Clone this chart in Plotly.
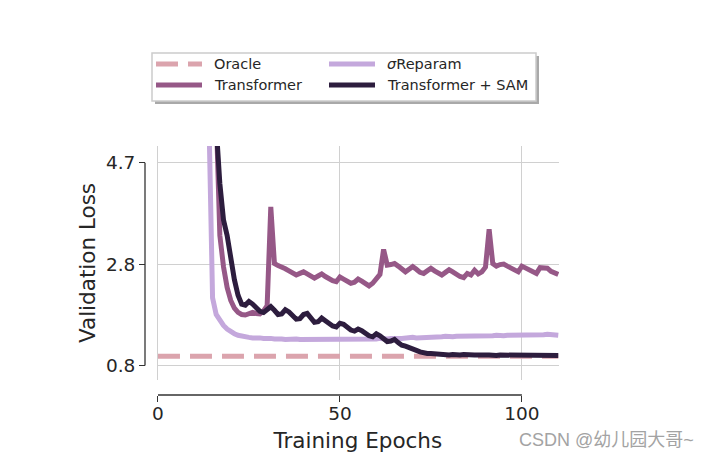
import plotly.graph_objects as go

# ---------------- data ----------------
oracle_epochs = [0, 110]
oracle_loss = [0.975, 0.975]

reparam_epochs = list(range(13, 111))
reparam_loss = [9.0, 5.8, 2.1, 1.78, 1.66, 1.57, 1.50, 1.45, 1.41, 1.38,
                1.36, 1.35, 1.34, 1.33, 1.34, 1.33, 1.32, 1.33, 1.32, 1.31,
                1.32, 1.31, 1.30, 1.31, 1.32, 1.31, 1.30, 1.30, 1.31, 1.30,
                1.29, 1.30, 1.30, 1.29, 1.29, 1.30, 1.29, 1.29, 1.30, 1.30,
                1.29, 1.30, 1.31, 1.30, 1.30, 1.31, 1.31, 1.31, 1.32, 1.31,
                1.31, 1.32, 1.33, 1.32, 1.32, 1.33, 1.33, 1.34, 1.33, 1.33,
                1.34, 1.35, 1.34, 1.34, 1.35, 1.35, 1.36, 1.35, 1.35, 1.36,
                1.36, 1.35, 1.36, 1.37, 1.36, 1.36, 1.37, 1.37, 1.36, 1.37,
                1.38, 1.37, 1.37, 1.38, 1.38, 1.37, 1.38, 1.39, 1.38, 1.38,
                1.39, 1.39, 1.38, 1.39, 1.40, 1.39, 1.39, 1.38]

transformer_epochs = list(range(15, 111))
transformer_loss = [8.0, 5.5, 3.3, 2.7, 2.3, 2.05, 1.90, 1.82, 1.78, 1.77,
                    1.80, 1.82, 1.80, 1.79, 1.85, 1.95, 3.85, 2.76, 2.72, 2.70,
                    2.66, 2.62, 2.57, 2.54, 2.57, 2.60, 2.56, 2.52, 2.48, 2.52,
                    2.56, 2.51, 2.46, 2.43, 2.41, 2.50, 2.46, 2.42, 2.38, 2.40,
                    2.46, 2.42, 2.37, 2.33, 2.38, 2.46, 2.55, 3.03, 2.73, 2.74,
                    2.76, 2.71, 2.65, 2.60, 2.65, 2.70, 2.65, 2.59, 2.57, 2.62,
                    2.67, 2.62, 2.57, 2.54, 2.59, 2.64, 2.60, 2.55, 2.51, 2.49,
                    2.57, 2.54, 2.63, 2.56, 2.60, 2.69, 3.42, 2.76, 2.71, 2.74,
                    2.75, 2.71, 2.67, 2.63, 2.60, 2.71, 2.67, 2.63, 2.59, 2.57,
                    2.68, 2.67, 2.67, 2.61, 2.57, 2.55]

sam_epochs = list(range(14, 111))
sam_loss = [9.0, 7.0, 5.4, 4.3, 3.6, 3.3, 2.85, 2.45, 2.15, 1.98,
            1.96, 2.03, 1.98, 1.90, 1.84, 1.82, 1.88, 1.93, 1.86, 1.78,
            1.79, 1.87, 1.83, 1.75, 1.69, 1.70, 1.78, 1.80, 1.71, 1.63,
            1.64, 1.71, 1.66, 1.60, 1.56, 1.54, 1.61, 1.59, 1.53, 1.48,
            1.46, 1.50, 1.47, 1.41, 1.37, 1.35, 1.41, 1.37, 1.31, 1.26,
            1.27, 1.30, 1.24, 1.19, 1.17, 1.15, 1.12, 1.09, 1.06, 1.04,
            1.03, 1.03, 1.02, 1.02, 1.01, 1.01, 1.00, 1.01, 1.00, 1.00,
            1.01, 1.00, 0.99, 1.00, 1.00, 0.99, 1.00, 1.00, 0.99, 0.99,
            1.00, 1.00, 0.99, 0.99, 1.00, 0.99, 0.99, 1.00, 1.00, 0.99,
            0.99, 1.00, 1.00, 0.99, 0.99, 0.99, 0.99]

series_names = ["Oracle", "<i>σ</i>Reparam", "Transformer", "Transformer + SAM"]

x_tick_vals = [0, 50, 100]
x_tick_text = ["0", "50", "100"]
y_tick_vals = [0.8, 2.75, 4.7]
y_tick_text = ["0.8", "2.8", "4.7"]

# ---------------- styling ----------------
FONT = "DejaVu Sans"
TXT = "#262626"
SPINE = "#333333"
C_ORACLE = "#dba4ad"
C_REPARAM = "#c4a8dc"
C_TRANS = "#965887"
C_SAM = "#2d1d3e"
colors = [C_ORACLE, C_REPARAM, C_TRANS, C_SAM]
dashes = ["22px,10px", "solid", "solid", "solid"]

# page body has an 8px margin; keep the figure inside the window
OFF = 8
W, H = 714 - OFF, 461 - OFF
ML, MR, MT, MB = 145 - OFF, 155, 146 - OFF, 66
PW, PH = W - ML - MR, H - MT - MB

def fx(p):  # window pixel -> paper x
    return (p - OFF - ML) / PW

def fy(p):  # window pixel -> paper y
    return (H - MB - (p - OFF)) / PH

fig = go.Figure()
for xs, ys, nm, c, d in zip([oracle_epochs, reparam_epochs, transformer_epochs, sam_epochs],
                            [oracle_loss, reparam_loss, transformer_loss, sam_loss],
                            series_names, colors, dashes):
    fig.add_trace(go.Scatter(x=xs, y=ys, mode="lines", name=nm, showlegend=False,
                             line=dict(color=c, width=5, dash=d)))

# ---------------- legend (drawn by hand: matplotlib-style, 2 columns, shadow) ----------------
leg_l, leg_t, leg_r, leg_b = 152, 53, 536, 101
fig.add_shape(type="rect", xref="paper", yref="paper",
              x0=fx(leg_l + 3), x1=fx(leg_r + 3), y0=fy(leg_b + 3), y1=fy(leg_t + 3),
              fillcolor="#a9a9a9", line=dict(width=0), layer="above")
fig.add_shape(type="rect", xref="paper", yref="paper",
              x0=fx(leg_l), x1=fx(leg_r), y0=fy(leg_b), y1=fy(leg_t),
              fillcolor="white", line=dict(color="#cccccc", width=1.5), layer="above")
rows_y = [64, 64, 85, 85]
cols_x = [156, 329, 156, 329]
legend_order = [0, 1, 2, 3]
for k, i in enumerate(legend_order):
    x0 = cols_x[k]
    yy = rows_y[k]
    fig.add_shape(type="line", xref="paper", yref="paper",
                  x0=fx(x0), x1=fx(x0 + 46), y0=fy(yy), y1=fy(yy),
                  line=dict(color=colors[i], width=5, dash=dashes[i]), layer="above")
    fig.add_annotation(text=series_names[i], xref="paper", yref="paper",
                       x=fx(x0 + 57), y=fy(yy), xanchor="left", yanchor="middle",
                       showarrow=False, borderpad=0,
                       font=dict(family=FONT, size=14.5, color=TXT))

# trimmed, offset spines
fig.add_shape(type="line", xref="paper", yref="y", x0=0, x1=0, y0=0.8, y1=4.7,
              line=dict(color=SPINE, width=1.3))
fig.add_shape(type="line", xref="x", yref="paper", x0=0, x1=100, y0=0, y1=0,
              line=dict(color=SPINE, width=1.3))

fig.add_annotation(text="CSDN @幼儿园大哥~", xref="paper", yref="paper",
                   x=fx(606), y=fy(440), xanchor="center", yanchor="middle",
                   showarrow=False, borderpad=0,
                   font=dict(family="Liberation Sans, Noto Sans CJK SC", size=18, color="#a3a3a3"))

fig.update_layout(
    width=W, height=H,
    margin=dict(l=ML, r=MR, t=MT, b=MB, pad=0, autoexpand=False),
    paper_bgcolor="white", plot_bgcolor="white",
    font=dict(family=FONT, color=TXT),
    showlegend=False,
    xaxis=dict(domain=[fx(156.7), 1], range=[-0.35, 110.2], anchor="free", position=0,
               tickvals=x_tick_vals, ticktext=x_tick_text,
               ticks="outside", ticklen=6, tickwidth=1.3, tickcolor=SPINE,
               ticklabelstandoff=-4,
               showline=False, zeroline=False,
               showgrid=True, gridcolor="#d0d0d0", gridwidth=1.2,
               tickfont=dict(family=FONT, size=18.5, color=TXT),
               title=dict(text="Training Epochs", font=dict(family=FONT, size=21.5, color=TXT),
                          standoff=9)),
    yaxis=dict(domain=[fy(380), 1], range=[0.52, 5.02], anchor="free", position=0,
               tickvals=y_tick_vals, ticktext=y_tick_text,
               ticks="outside", ticklen=6, tickwidth=1.3, tickcolor=SPINE,
               showline=False, zeroline=False,
               showgrid=True, gridcolor="#d0d0d0", gridwidth=1.2,
               tickfont=dict(family=FONT, size=18.5, color=TXT),
               title=dict(text="Validation Loss", font=dict(family=FONT, size=21.5, color=TXT),
                          standoff=3)),
)

fig.write_html("out.html")
